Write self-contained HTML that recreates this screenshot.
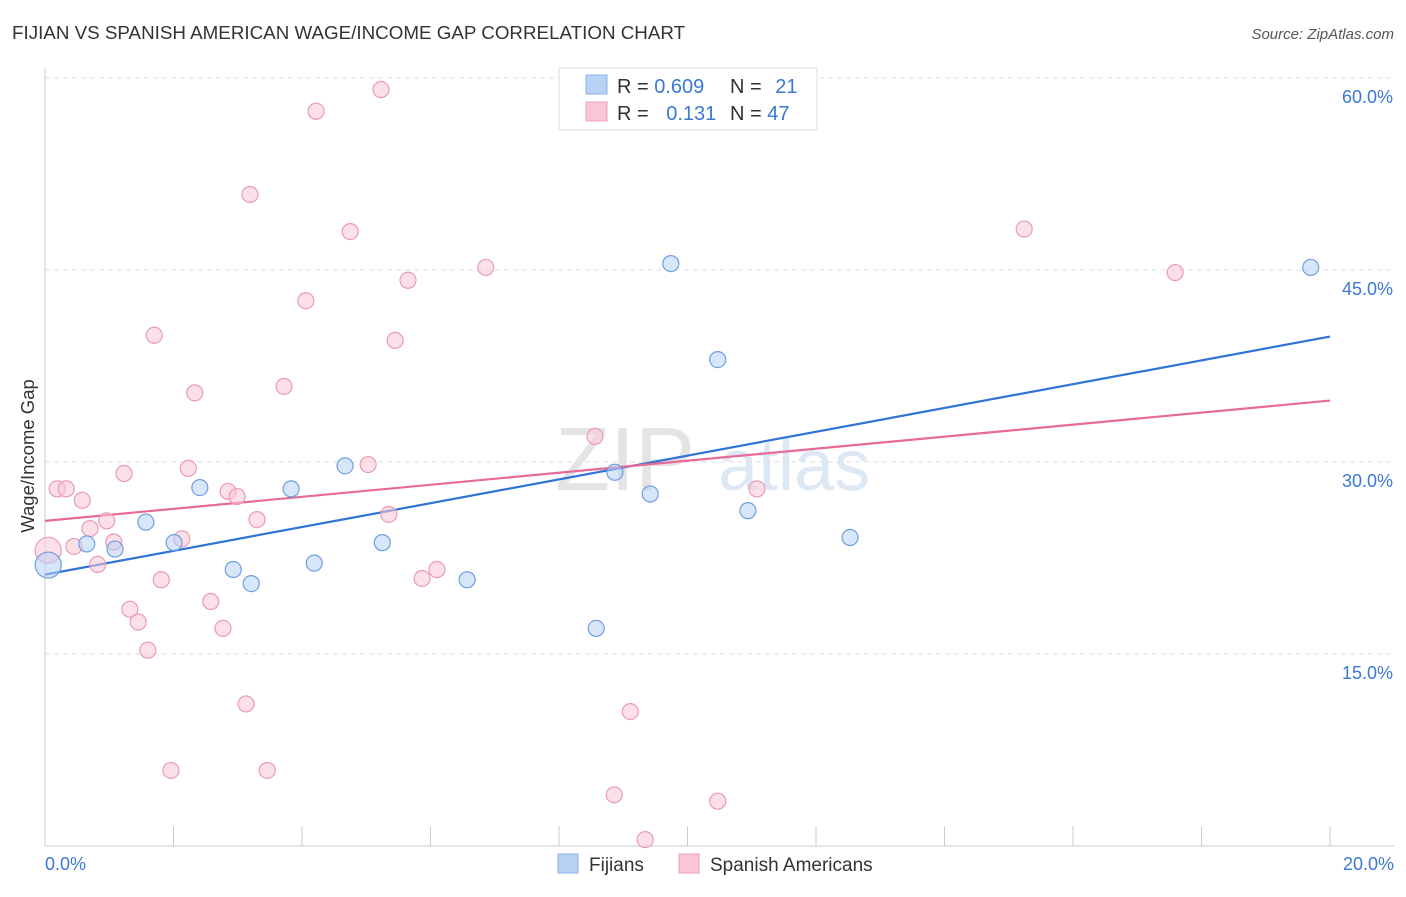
<!DOCTYPE html>
<html><head><meta charset="utf-8">
<style>
body{margin:0;background:#fff;font-family:"Liberation Sans",sans-serif;}
svg text{font-family:"Liberation Sans",sans-serif;}
</style></head>
<body>
<svg id="chart" width="1406" height="892">
<text x="12" y="39" font-size="18.8" fill="#333">FIJIAN VS SPANISH AMERICAN WAGE/INCOME GAP CORRELATION CHART</text>
<text x="1394" y="39" font-size="15" fill="#555" text-anchor="end" font-style="italic">Source: ZipAtlas.com</text>
<text x="34" y="456" font-size="18.5" fill="#333" text-anchor="middle" transform="rotate(-90 34 456)">Wage/Income Gap</text>
<text x="555" y="490" font-size="90" fill="#e4e4e4" font-family="Liberation Serif">ZIP</text>
<text x="718" y="490" font-size="72" fill="#dde8f5">atlas</text>
<g id="grid"></g>
<g id="lines"></g>
<g id="pts"></g>
<g>
<rect x="559" y="68" width="258" height="62" fill="#fff" stroke="#ddd"/>
<rect x="586" y="75" width="21" height="19" fill="#b8d2f5" stroke="#8ab0e6"/>
<rect x="586" y="102" width="21" height="19" fill="#f9c6d5" stroke="#eda0b8"/>
<text x="617" y="93" font-size="20" fill="#333">R = <tspan fill="#3a78d4">0.609</tspan></text>
<text x="730" y="93" font-size="20" fill="#333">N = <tspan fill="#3a78d4" dx="8">21</tspan></text>
<text x="617" y="120" font-size="20" fill="#333">R = <tspan fill="#3a78d4" dx="12">0.131</tspan></text>
<text x="730" y="120" font-size="20" fill="#333">N = <tspan fill="#3a78d4">47</tspan></text>
</g>
<g>
<rect x="558" y="854" width="20" height="19" fill="#b8d2f5" stroke="#8ab0e6"/>
<text x="589" y="871" font-size="19" fill="#333">Fijians</text>
<rect x="679" y="854" width="20" height="19" fill="#f9c6d5" stroke="#eda0b8"/>
<text x="710" y="871" font-size="19" fill="#333">Spanish Americans</text>
</g>
</svg>
<script>
const xTicks=[0,20];
const yTicks=[15,30,45,60];
const fijX=[0.05,0.65,1.09,1.57,2.01,2.41,2.93,3.21,3.83,4.19,4.67,5.25,6.57,8.58,8.87,9.42,9.74,10.47,10.94,12.53,19.70];
const fijY=[21.95,23.6,23.2,25.3,23.7,28.0,21.6,20.5,27.9,22.1,29.7,23.7,20.8,17.0,29.2,27.5,45.5,38.0,26.2,24.1,45.2];
const spaX=[0.05,0.19,0.33,0.45,0.58,0.70,0.82,0.96,1.07,1.23,1.32,1.45,1.60,1.70,1.81,1.96,2.13,2.23,2.33,2.58,2.77,2.85,2.99,3.13,3.19,3.30,3.46,3.72,4.06,4.22,4.75,5.03,5.23,5.35,5.45,5.65,5.87,6.10,6.86,8.56,8.86,9.11,9.34,10.47,11.08,15.24,17.59];
const spaY=[23.1,27.9,27.9,23.4,27.0,24.8,22.0,25.4,23.75,29.1,18.5,17.5,15.3,39.9,20.8,5.9,24.0,29.5,35.4,19.1,17.0,27.7,27.3,11.1,50.9,25.5,5.9,35.9,42.6,57.4,48.0,29.8,59.1,25.9,39.5,44.2,20.9,21.6,45.2,32.0,4.0,10.5,0.5,3.5,27.9,48.2,44.8];
const fijLine=[21.2,39.8];
const spaLine=[25.4,34.8];
const NS='http://www.w3.org/2000/svg';
const sx=v=>45+v*64.25, sy=v=>846-v*12.8;
function mk(t,a,p){const e=document.createElementNS(NS,t);for(const k in a)e.setAttribute(k,a[k]);p.appendChild(e);return e;}
const grid=document.getElementById('grid');
yTicks.forEach(t=>{
 const l=mk('line',{x1:45,x2:1394,y1:sy(t),y2:sy(t),stroke:'#ddd','stroke-dasharray':'5,4'},grid);
 
 
 const tx=mk('text',{x:1393,y:sy(t)+25,'font-size':18,fill:'#3a78d4','text-anchor':'end'},grid);
 tx.textContent=t.toFixed(1)+'%';
 
 
});
const ax=mk('line',{x1:45,x2:45,y1:68,y2:846,stroke:'#ccc'},grid);


const bx=mk('line',{x1:45,x2:1394,y1:846,y2:846,stroke:'#ccc'},grid);


for(let i=1;i<=10;i++){const t=mk('line',{x1:sx(i*2),x2:sx(i*2),y1:826,y2:846,stroke:'#ccc'},grid);
 
 }
xTicks.forEach((t,i)=>{const tx=mk('text',{x:i?1394:45,y:870,'font-size':18,fill:'#3a78d4','text-anchor':i?'end':'start'},grid);
 tx.textContent=t.toFixed(1)+'%';
 
 });
const pts=document.getElementById('pts');
function series(X,Y,fill,stroke,name){X.forEach((x,i)=>{const c=mk('circle',{cx:sx(x),cy:sy(Y[i]),r:i==0?13:8,fill:fill,'fill-opacity':0.55,stroke:stroke,'stroke-width':1.2},pts);
 
 });}
series(spaX,spaY,'#f9c6d5','#eb9ab4','spanish');
series(fijX,fijY,'#b8d2f5','#6f9ee0','fijian');
const lines=document.getElementById('lines');
const l1=mk('line',{x1:sx(0),y1:sy(fijLine[0]),x2:sx(20),y2:sy(fijLine[1]),stroke:'#2f74d6','stroke-width':2.2},lines);


const l2=mk('line',{x1:sx(0),y1:sy(spaLine[0]),x2:sx(20),y2:sy(spaLine[1]),stroke:'#e86a98','stroke-width':2.2},lines);


</script>
</body></html>
